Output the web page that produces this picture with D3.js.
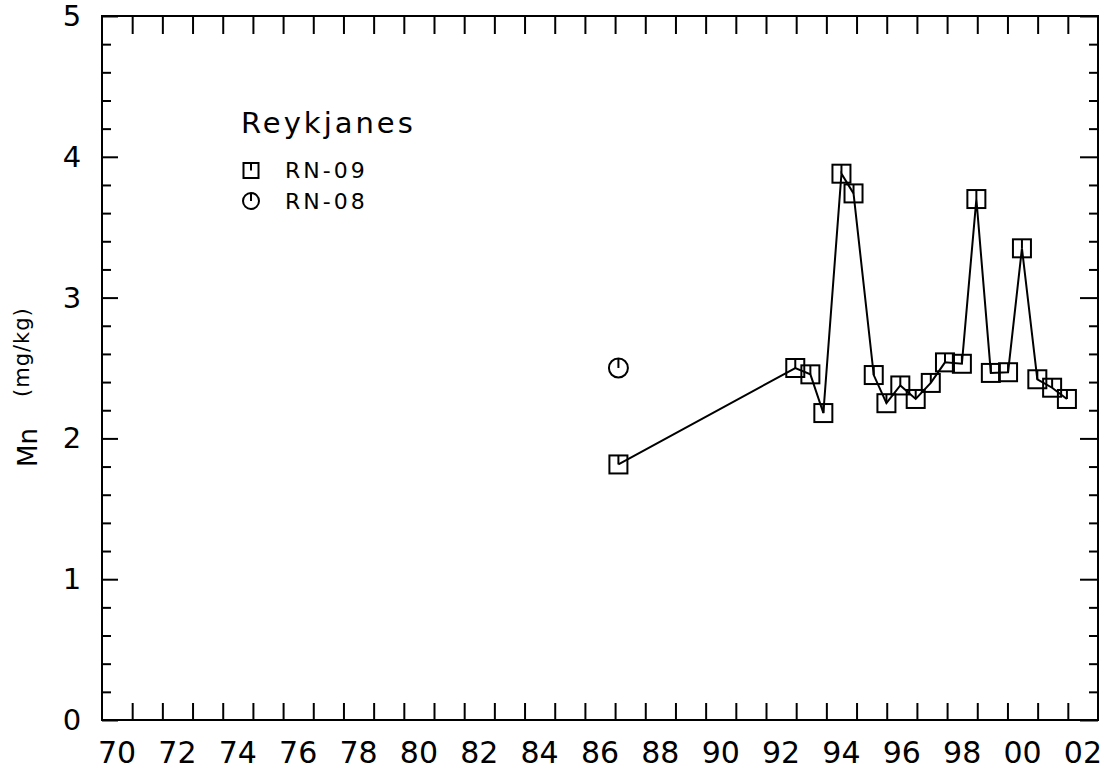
<!DOCTYPE html>
<html>
<head>
<meta charset="utf-8">
<script src="https://cdn.jsdelivr.net/npm/d3@7"></script>
<style>
  body { margin: 0; background: #fff; }
  svg { display: block; }
  text { font-family: "DejaVu Sans", sans-serif; fill: #000; }
  .axis path { display: none; }
  .axis line { stroke: #000; stroke-width: 2; }
</style>
</head>
<body>
<div id="chart"></div>
<script>
// RN-09 samples, decimal year and Mn (mg/kg)
let rn09Year = [1987.11, 1992.97, 1993.47, 1993.90, 1994.50, 1994.90, 1995.57, 1995.99, 1996.45, 1996.96,
                1997.46, 1997.93, 1998.49, 1998.97, 1999.45, 2000.02, 2000.48, 2000.99, 2001.48, 2001.97];
let rn09Mn = [1.815, 2.50, 2.455, 2.18, 3.88, 3.74, 2.45, 2.25, 2.376, 2.28,
              2.394, 2.54, 2.53, 3.70, 2.465, 2.47, 3.35, 2.42, 2.36, 2.28];

// RN-08 samples
let rn08Year = [1987.11];
let rn08Mn = [2.50];

let labelYears = d3.range(1970, 2003, 2);
let yLabels = [0, 1, 2, 3, 4, 5];

let width = 1107, height = 777;
let m = {left: 102, right: 1098, top: 16, bottom: 720};

let svg = d3.select("#chart").append("svg")
    .attr("width", width)
    .attr("height", height);

let x = d3.scaleLinear().domain([1970, 2003]).range([m.left, m.right]);
let y = d3.scaleLinear().domain([0, 5]).range([m.bottom, m.top]);

let yearTicks = d3.range(1971, 2003);
let minorTicks = d3.range(0, 5.001, 0.2).filter(d => Math.abs(d - Math.round(d)) > 0.01);

// ticks, all pointing inwards
svg.append("g").attr("class", "axis")
    .attr("transform", `translate(0,${m.bottom})`)
    .call(d3.axisBottom(x).tickValues(yearTicks).tickSize(-17).tickFormat(""));
svg.append("g").attr("class", "axis")
    .attr("transform", `translate(0,${m.top})`)
    .call(d3.axisTop(x).tickValues(yearTicks).tickSize(-18).tickFormat(""));
svg.append("g").attr("class", "axis")
    .attr("transform", `translate(${m.left},0)`)
    .call(d3.axisLeft(y).tickValues(minorTicks).tickSize(-9).tickFormat(""));
svg.append("g").attr("class", "axis")
    .attr("transform", `translate(${m.left},0)`)
    .call(d3.axisLeft(y).tickValues(yLabels).tickSize(-16).tickFormat(""));
svg.append("g").attr("class", "axis")
    .attr("transform", `translate(${m.right},0)`)
    .call(d3.axisRight(y).tickValues(minorTicks).tickSize(-9).tickFormat(""));
svg.append("g").attr("class", "axis")
    .attr("transform", `translate(${m.right},0)`)
    .call(d3.axisRight(y).tickValues(yLabels).tickSize(-18).tickFormat(""));

// frame
svg.append("rect")
    .attr("x", m.left).attr("y", m.top)
    .attr("width", m.right - m.left).attr("height", m.bottom - m.top)
    .attr("fill", "none").attr("stroke", "#000").attr("stroke-width", 2);

// x labels, centred in each year
svg.selectAll(".xlab").data(labelYears).enter().append("text")
    .attr("class", "xlab")
    .attr("x", d => x(d + 0.5))
    .attr("y", 763)
    .attr("text-anchor", "middle")
    .attr("font-size", 30)
    .text(d => String(d % 100).padStart(2, "0"));

// y labels
svg.selectAll(".ylab").data(yLabels).enter().append("text")
    .attr("class", "ylab")
    .attr("x", 72)
    .attr("y", d => y(d) + 10)
    .attr("text-anchor", "middle")
    .attr("font-size", 29)
    .text(d => d);

// y title
svg.append("text")
    .attr("transform", "translate(37,467) rotate(-90)")
    .attr("font-size", 26)
    .text("Mn");
svg.append("text")
    .attr("transform", "translate(29,397) rotate(-90)")
    .attr("font-size", 21)
    .attr("letter-spacing", 1)
    .text("(mg/kg)");

// RN-09 line
let pts09 = rn09Year.map((d, i) => [d, rn09Mn[i]]);
let line = d3.line().x(d => x(d[0])).y(d => y(d[1]));
svg.append("path")
    .datum(pts09)
    .attr("d", line)
    .attr("fill", "none")
    .attr("stroke", "#000")
    .attr("stroke-width", 2);

function squareMark(g, cx, cy, s) {
    g.append("rect")
        .attr("x", cx - s / 2).attr("y", cy - s / 2)
        .attr("width", s).attr("height", s)
        .attr("fill", "none").attr("stroke", "#000").attr("stroke-width", 2);
    g.append("line")
        .attr("x1", cx).attr("x2", cx)
        .attr("y1", cy - s / 2).attr("y2", cy)
        .attr("stroke", "#000").attr("stroke-width", 2);
}

function circleMark(g, cx, cy, r) {
    g.append("circle")
        .attr("cx", cx).attr("cy", cy).attr("r", r)
        .attr("fill", "none").attr("stroke", "#000").attr("stroke-width", 2);
    g.append("line")
        .attr("x1", cx).attr("x2", cx)
        .attr("y1", cy - r).attr("y2", cy)
        .attr("stroke", "#000").attr("stroke-width", 2);
}

let marks = svg.append("g");
pts09.forEach(d => squareMark(marks, x(d[0]), y(d[1]), 18));
rn08Year.forEach((d, i) => circleMark(marks, x(d), y(rn08Mn[i]), 9.5));

// legend
let legend = svg.append("g");
legend.append("text")
    .attr("x", 241).attr("y", 133)
    .attr("font-size", 29)
    .attr("letter-spacing", 3)
    .text("Reykjanes");
squareMark(legend, 251, 170.5, 15);
circleMark(legend, 251, 201, 8);
legend.append("text")
    .attr("x", 285).attr("y", 178)
    .attr("font-size", 22)
    .attr("letter-spacing", 3)
    .text("RN-09");
legend.append("text")
    .attr("x", 285).attr("y", 209)
    .attr("font-size", 22)
    .attr("letter-spacing", 3)
    .text("RN-08");
</script>
</body>
</html>
